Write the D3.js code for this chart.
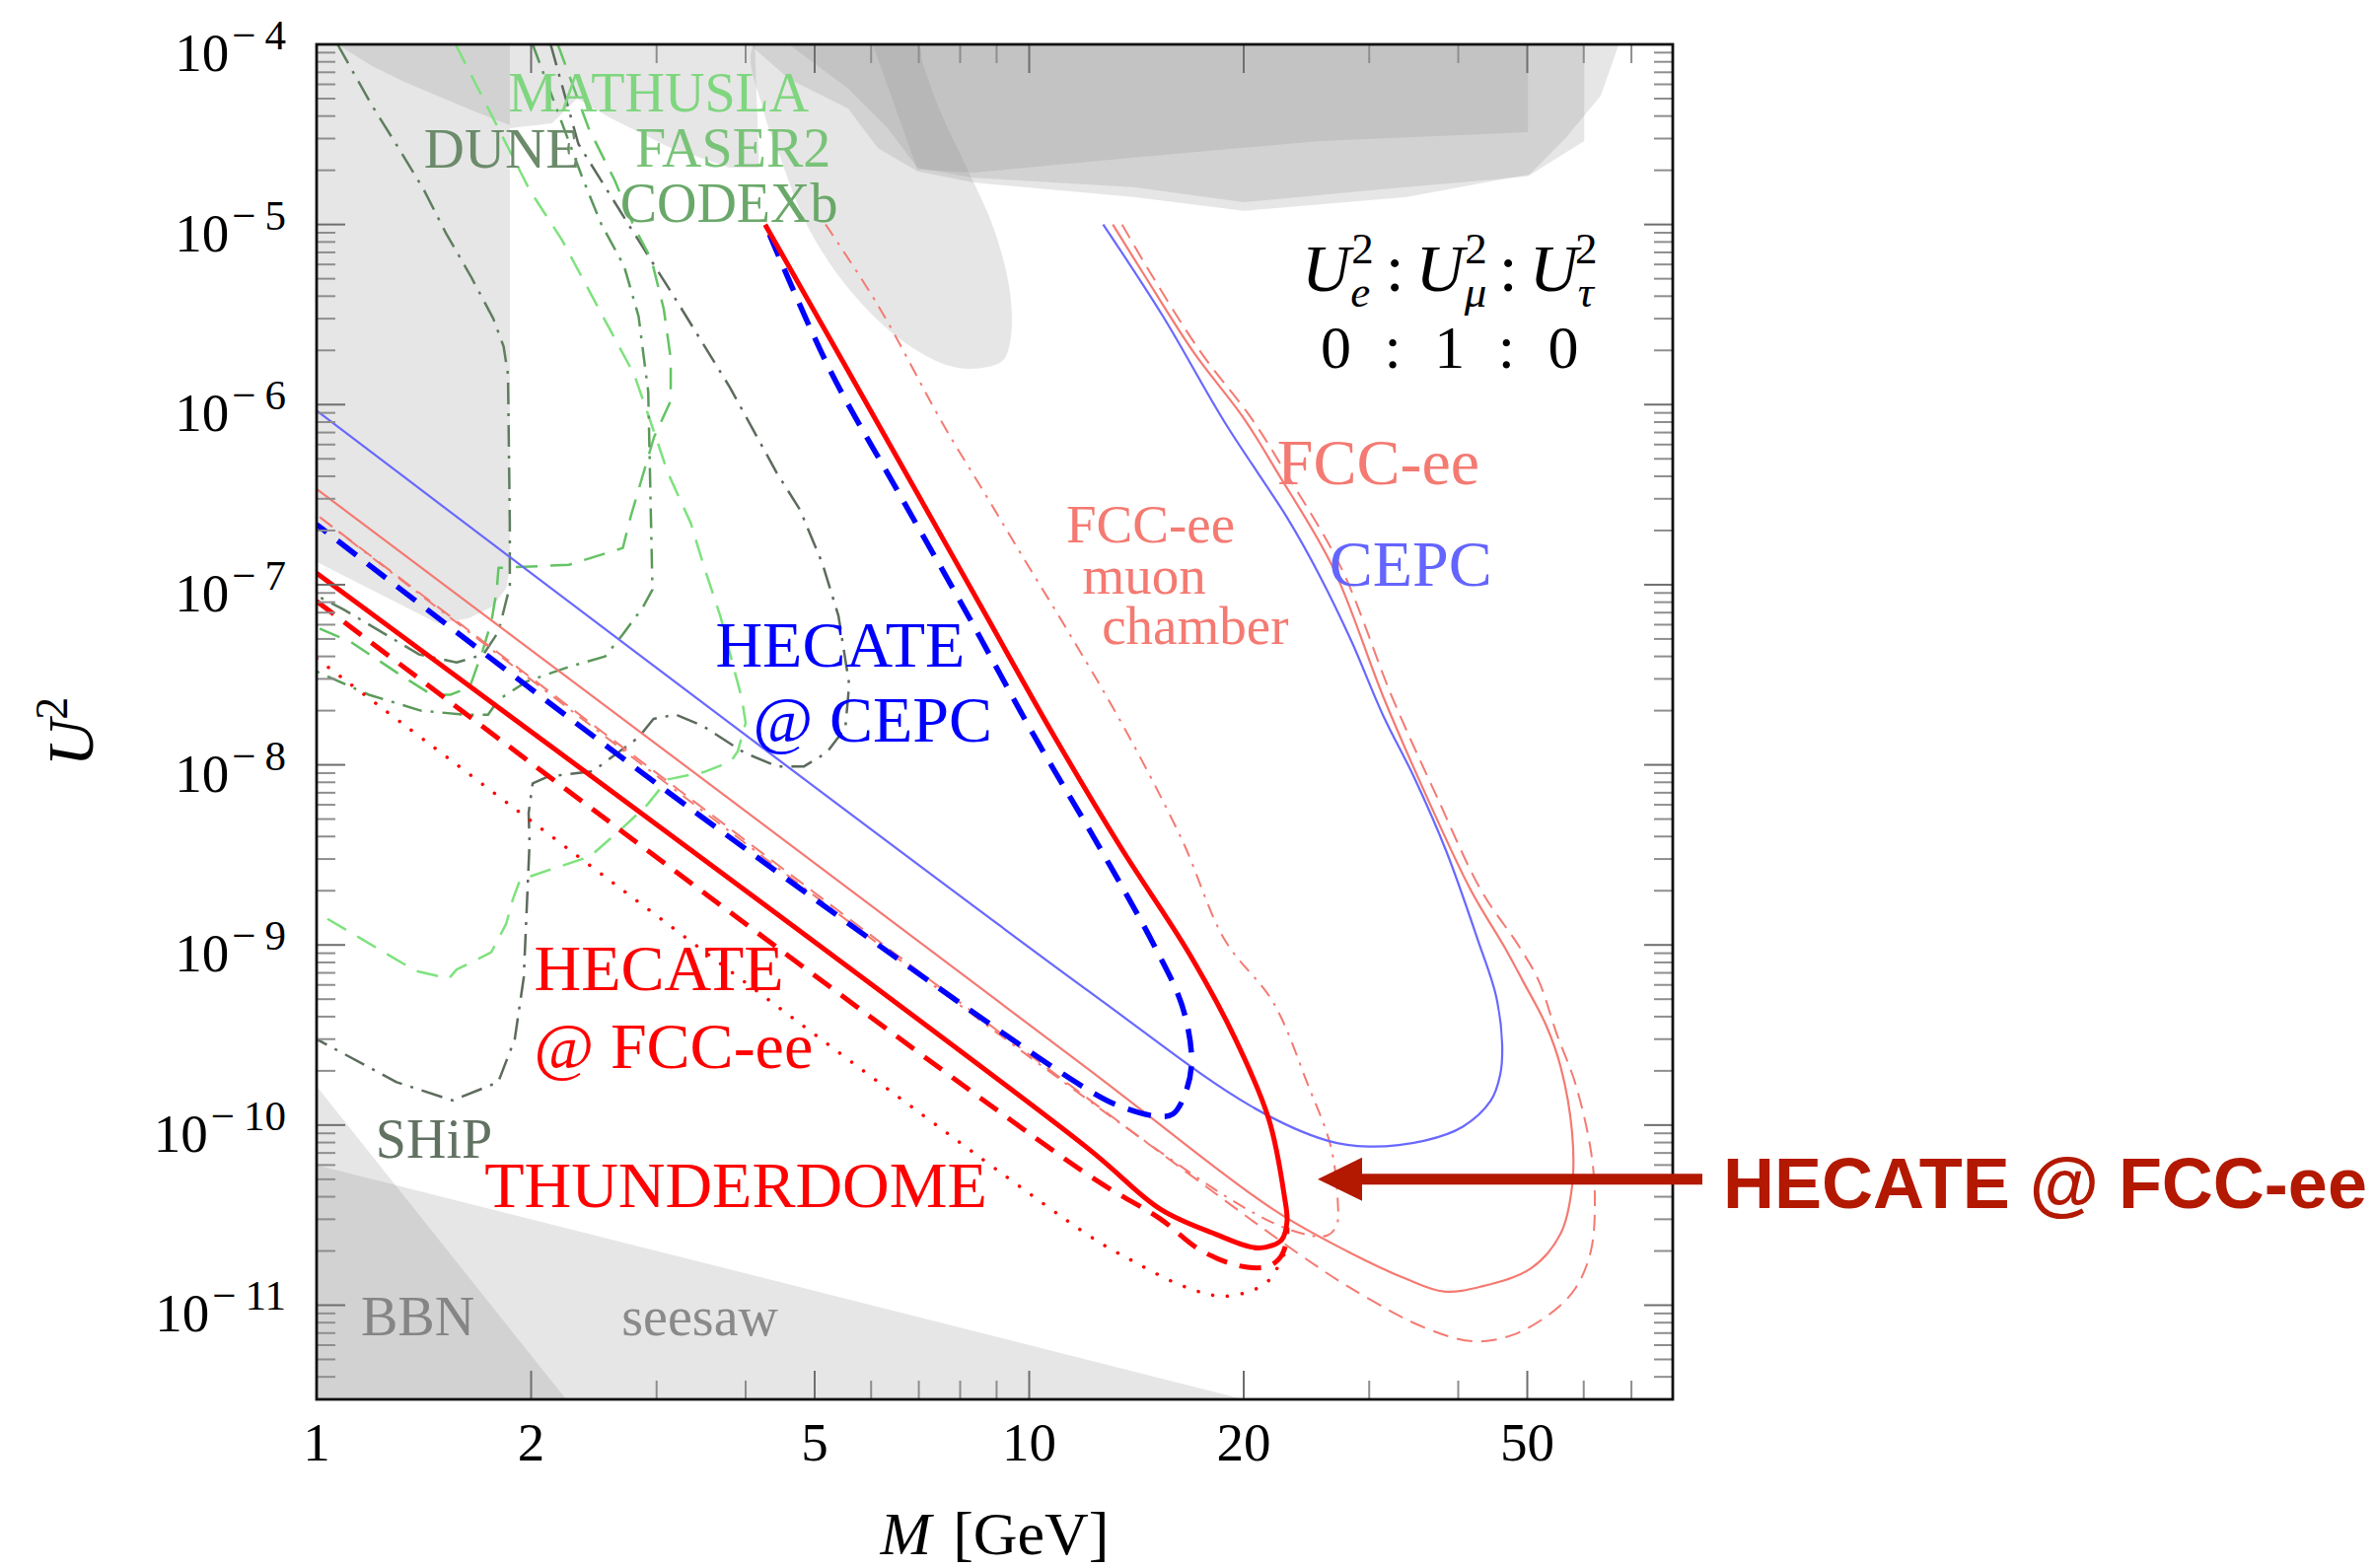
<!DOCTYPE html>
<html lang="en">
<head>
<meta charset="utf-8">
<title>HNL sensitivity, U_e:U_mu:U_tau = 0:1:0</title>
<script src="https://cdn.jsdelivr.net/npm/d3@7"></script>
<style>
  body { margin: 0; background: #fff; }
  svg text { font-family: "Liberation Serif", "DejaVu Serif", serif; }
  .callout { font-family: "Liberation Sans", Arial, sans-serif; font-weight: bold; }
</style>
</head>
<body>
<svg id="chart"></svg>
<script>
// ---- data: every point is [M in GeV, U^2] ----
var cepc = [[12.7,1.0e-5],[15.4,3.1e-6],[18.8,8.0e-7],[23.1,2.3e-7],[25.6,1.11e-7],[28.3,4.9e-8],[31.4,1.87e-8],[34.7,8.5e-9],[38.5,3.3e-9],[42.6,1.07e-9],[45.2,5.2e-10],[46.1,2.8e-10],[45.8,1.9e-10],[44.4,1.36e-10],[40.6,9.8e-11],[35.9,8.2e-11],[29.9,7.6e-11],[26.2,8.2e-11],[20.5,1.27e-10],[12.0,5.7e-10],[1,9.25e-7]];
var fccee = [[13.1,1.0e-5],[14.45,5.37e-6],[17.0,1.96e-6],[20.0,8.4e-7],[22.3,4.2e-7],[26.7,1.24e-7],[31.4,2.38e-8],[36.1,6.7e-9],[41.7,2.0e-9],[46.4,9.8e-10],[49.3,6.3e-10],[53.1,3.6e-10],[55.7,2.1e-10],[57.8,9.0e-11],[57.8,4.6e-11],[55.7,2.5e-11],[50.6,1.6e-11],[43.1,1.27e-11],[38.2,1.19e-11],[33.8,1.4e-11],[28.1,1.97e-11],[22.0,3.4e-11],[12.0,2.1e-10],[1,3.4e-7]];
var fcceeDash = [[13.5,1.0e-5],[14.8,5.37e-6],[17.4,1.96e-6],[20.5,8.4e-7],[22.9,4.2e-7],[27.4,1.24e-7],[32.3,2.38e-8],[37.3,6.7e-9],[43.1,2.0e-9],[48.7,9.8e-10],[51.9,6.3e-10],[55.0,3.2e-10],[58.4,1.7e-10],[61.4,7.2e-11],[62.2,3.8e-11],[61.4,2.0e-11],[58.4,1.24e-11],[53.7,8.9e-12],[47.5,6.8e-12],[42.0,6.3e-12],[35.9,7.5e-12],[29.9,1.09e-11],[23.7,1.97e-11],[1,2.45e-7]];
var fccMuon = [[5.18,1.0e-5],[6.15,3.5e-6],[7.54,8.0e-7],[8.71,3.1e-7],[9.89,1.34e-7],[11.34,5.5e-8],[13.6,1.6e-8],[16.4,3.8e-9],[18.8,1.07e-9],[22.0,4.8e-10],[24.6,1.68e-10],[26.5,7.6e-11],[27.1,3.8e-11],[27.0,2.77e-11],[26.2,2.44e-11],[24.15,2.5e-11],[19.3,3.8e-11],[1,2.45e-7]];
var hecateFcc = [[4.26,1.0e-5],[5.57,1.54e-6],[6.95,3.27e-7],[8.66,6.97e-8],[10.8,1.48e-8],[13.45,3.47e-9],[16.77,8.96e-10],[19.4,3.09e-10],[21.7,1.07e-10],[22.8,4.06e-11],[23.0,2.9e-11],[22.6,2.3e-11],[21.5,2.1e-11],[20.5,2.1e-11],[18.4,2.45e-11],[15.3,3.4e-11],[12.0,7.6e-11],[1,1.16e-7]];
var hecateFccDash = [[1,8.1e-8],[12.0,5.4e-11],[15.3,3.0e-11],[17.3,2.05e-11],[19.5,1.67e-11],[21.5,1.63e-11],[22.4,1.8e-11],[22.9,2.15e-11],[23.0,2.7e-11]];
var thunderdome = [[1,3.9e-8],[12.1,2.45e-11],[13.9,1.78e-11],[16.1,1.32e-11],[17.7,1.16e-11],[18.8,1.12e-11],[20.7,1.22e-11],[21.8,1.4e-11],[22.4,1.67e-11],[22.9,2.0e-11]];
var hecateCepc = [[4.32,8.8e-6],[5.26,1.54e-6],[6.55,3.27e-7],[8.17,6.97e-8],[10.13,1.48e-8],[12.56,3.47e-9],[14.98,9.9e-10],[16.4,4.56e-10],[16.9,2.31e-10],[16.6,1.54e-10],[15.9,1.15e-10],[15.1,1.12e-10],[13.5,1.26e-10],[12.0,1.6e-10],[3.35,5.7e-9],[1,2.16e-7]];

var dune = [[1.07,1.0e-4],[1.195,4.6e-5],[1.30,2.7e-5],[1.415,1.55e-5],[1.52,8.9e-6],[1.644,5.2e-6],[1.77,3.0e-6],[1.83,2.1e-6],[1.856,1.47e-6],[1.867,2.2e-7],[1.867,9.8e-8],[1.80,5.5e-8],[1.714,4.1e-8],[1.572,3.7e-8],[1.393,4.1e-8],[1.23,5.5e-8],[1.09,7.3e-8],[1,8.7e-8]];
var ship = [[2.13,1.0e-4],[2.33,2.8e-5],[2.74,1.0e-5],[3.21,3.7e-6],[3.80,1.25e-6],[4.42,4.2e-7],[4.77,2.6e-7],[5.13,1.3e-7],[5.40,6.7e-8],[5.59,2.8e-8],[5.52,1.6e-8],[5.20,1.17e-8],[4.83,9.8e-9],[4.43,9.8e-9],[3.98,1.17e-8],[3.48,1.65e-8],[3.19,1.9e-8],[2.97,1.8e-8],[2.83,1.42e-8],[2.44,9.2e-9],[2.11,8.6e-9],[2.01,7.9e-9],[1.984,5.4e-9],[1.99,3.7e-9],[1.953,6.6e-10],[1.897,3.0e-10],[1.798,1.73e-10],[1.552,1.37e-10],[1.295,1.73e-10],[1,3.0e-10]];
var mathusla = [[1.567,1.0e-4],[1.752,4.2e-5],[1.991,1.55e-5],[2.21,8.2e-6],[2.51,3.2e-6],[2.79,1.47e-6],[2.95,7.8e-7],[3.11,4.2e-7],[3.35,2.2e-7],[3.49,1.29e-7],[3.69,6.6e-8],[3.86,3.3e-8],[3.95,2.35e-8],[4.0,1.71e-8],[3.90,1.19e-8],[3.81,1.04e-8],[3.49,9.1e-9],[3.11,8.3e-9],[2.91,6.0e-9],[2.71,4.6e-9],[2.42,3.1e-9],[2.115,2.6e-9],[1.93,2.3e-9],[1.886,1.8e-9],[1.845,1.31e-9],[1.758,9.1e-10],[1.572,7.3e-10],[1.533,6.5e-10],[1.375,7.2e-10],[1.147,1.1e-9],[1.013,1.47e-9],[1,1.5e-9]];
var faser2 = [[2.18,1.0e-4],[2.41,3.4e-5],[2.62,1.76e-5],[2.79,9.7e-6],[2.95,6.4e-6],[3.07,3.4e-6],[3.14,1.8e-6],[3.14,1.05e-6],[2.975,6.6e-7],[2.76,2.4e-7],[2.69,1.6e-7],[2.26,1.29e-7],[1.80,1.24e-7],[1.79,9.4e-8],[1.76,6.3e-8],[1.71,4.3e-8],[1.64,2.7e-8],[1.54,2.45e-8],[1.45,2.45e-8],[1.32,3.1e-8],[1.118,4.8e-8],[1,5.8e-8]];
var codexb = [[2.01,1.0e-4],[2.36,1.82e-5],[2.51,1.0e-5],[2.70,5.9e-6],[2.83,3.1e-6],[2.88,1.8e-6],[2.92,1.18e-6],[2.93,6.3e-7],[2.96,9.4e-8],[2.87,7.5e-8],[2.69,5.3e-8],[2.54,4.0e-8],[2.26,3.5e-8],[1.97,2.9e-8],[1.80,2.3e-8],[1.74,1.9e-8],[1.61,1.9e-8],[1.40,2.0e-8],[1.184,2.45e-8],[1,3.3e-8]];

// excluded / theory regions (grey, stacked)
var leftColumn = [[1,1e-4],[1.867,1e-4],[1.867,1.24e-7],[1.845,9.6e-8],[1.769,7.6e-8],[1.634,6.5e-8],[1.48,6.1e-8],[1,1.34e-7]];
var leftTopBand = [[1,1e-4],[1.867,1e-4],[1.867,3.56e-5],[1.676,4.2e-5],[1.51,5.0e-5],[1.328,6.2e-5],[1.195,7.6e-5],[1.07,1e-4]];
var midTop = [[1.867,1e-4],[4.12,1e-4],[4.18,2.07e-5],[3.80,2.07e-5],[3.14,2.66e-5],[2.59,3.89e-5],[2.32,5.0e-5],[2.14,3.65e-5],[1.867,3.43e-5]];
var tongue = [[4.12,1e-4],[4.24,4.25e-5],[4.49,2.26e-5],[4.89,9.7e-6],[5.64,4.18e-6],[6.68,2.22e-6],[7.94,1.60e-6],[9.14,1.73e-6],[9.40,2.22e-6],[9.40,4.18e-6],[8.90,9.7e-6],[8.17,2.07e-5],[7.50,4.25e-5],[7.08,8.0e-5],[6.97,1e-4]];
var bandLight = [[4.05,1e-4],[67.2,1e-4],[63.4,5.19e-5],[56.6,3.02e-5],[50.4,1.90e-5],[33.9,1.42e-5],[20.0,1.19e-5],[14.0,1.42e-5],[8.35,1.71e-5],[6.97,1.97e-5],[6.13,2.66e-5],[5.57,4.4e-5],[4.6,6.43e-5]];
var bandMed = [[4.6,1e-4],[60.1,1e-4],[60.1,2.91e-5],[50.1,1.85e-5],[31.4,1.57e-5],[20.0,1.33e-5],[14.0,1.61e-5],[8.35,1.82e-5],[6.97,2.07e-5],[6.33,3.43e-5],[5.57,5.68e-5]];
var bandDark = [[6.03,1e-4],[50.1,1e-4],[50.1,3.26e-5],[25.6,2.91e-5],[14.0,2.35e-5],[8.35,1.94e-5],[6.97,2.02e-5]];
var bbn = [[1,1.64e-10],[2.24,3e-12],[1,3e-12]];
var seesaw = [[1,6.0e-11],[20,3.0e-12],[1,3e-12]];

var xMajor = [1, 2, 5, 10, 20, 50];
var yExponents = [-11, -10, -9, -8, -7, -6, -5, -4];

var labels = [
  {t: "MATHUSLA", m: 3.02, u: 4.25e-5, c: "#7fd67f", s: 56, a: "middle"},
  {t: "DUNE", m: 1.82, u: 2.07e-5, c: "#6b8b6b", s: 57, a: "middle"},
  {t: "FASER2", m: 3.84, u: 2.1e-5, c: "#79c379", s: 56, a: "middle"},
  {t: "CODEXb", m: 3.79, u: 1.035e-5, c: "#6aa86a", s: 56, a: "middle"},
  {t: "HECATE", m: 5.43, u: 3.5e-8, c: "#0000ff", s: 66, a: "middle"},
  {t: "@ CEPC", m: 6.03, u: 1.35e-8, c: "#0000ff", s: 66, a: "middle"},
  {t: "FCC-ee", m: 30.9, u: 3.6e-7, c: "#f47a72", s: 66, a: "middle"},
  {t: "CEPC", m: 34.3, u: 9.9e-8, c: "#6464ff", s: 66, a: "middle"},
  {t: "FCC-ee", m: 14.8, u: 1.72e-7, c: "#f47a72", s: 55, a: "middle"},
  {t: "muon", m: 14.5, u: 8.9e-8, c: "#f47a72", s: 55, a: "middle"},
  {t: "chamber", m: 17.1, u: 4.7e-8, c: "#f47a72", s: 55, a: "middle"},
  {t: "HECATE", m: 2.02, u: 5.6e-10, c: "#ff0000", s: 66, a: "start"},
  {t: "@ FCC-ee", m: 2.02, u: 2.08e-10, c: "#ff0000", s: 66, a: "start"},
  {t: "THUNDERDOME", m: 1.72, u: 3.5e-11, c: "#ff0000", s: 66, a: "start"},
  {t: "SHiP", m: 1.21, u: 6.6e-11, c: "#627262", s: 56, a: "start"},
  {t: "BBN", m: 1.154, u: 6.8e-12, c: "#858585", s: 56, a: "start"},
  {t: "seesaw", m: 2.68, u: 6.8e-12, c: "#8a8a8a", s: 56, a: "start"}
];
var ratioAt = [38.9, 4.3e-6];
var ratioValAt = [38.9, 1.6e-6];
var arrowTip = [25.4, 5.0e-11];

// ---- drawing ----
var width = 2408, height = 1590;
var plot = {left: 321, top: 45, width: 1375, height: 1374};

var x = d3.scaleLog().domain([1, 80]).range([plot.left, plot.left + plot.width]);
var y = d3.scaleLog().domain([3e-12, 1e-4]).range([plot.top + plot.height, plot.top]);

var svg = d3.select("#chart").attr("width", width).attr("height", height);
svg.append("rect").attr("width", width).attr("height", height).attr("fill", "#fff");

svg.append("clipPath").attr("id", "clip")
  .append("rect")
    .attr("x", plot.left).attr("y", plot.top)
    .attr("width", plot.width).attr("height", plot.height);

var inner = svg.append("g").attr("clip-path", "url(#clip)");

var closedLin = d3.line().x(function(d) { return x(d[0]); }).y(function(d) { return y(d[1]); }).curve(d3.curveLinearClosed);
var closedSmooth = d3.line().x(function(d) { return x(d[0]); }).y(function(d) { return y(d[1]); }).curve(d3.curveCatmullRomClosed.alpha(0.5));

var greys = [
  {pts: leftColumn}, {pts: leftTopBand}, {pts: midTop}, {pts: tongue, smooth: true},
  {pts: bandLight}, {pts: bandMed}, {pts: bandDark}, {pts: bbn}, {pts: seesaw}
];
inner.selectAll("path.grey")
  .data(greys)
  .enter().append("path")
    .attr("class", "grey")
    .attr("d", function(d) { return d.smooth ? closedSmooth(d.pts) : closedLin(d.pts); })
    .attr("fill", "#8c8c8c")
    .attr("fill-opacity", 0.22)
    .attr("stroke", "none");

var lin = d3.line().x(function(d) { return x(d[0]); }).y(function(d) { return y(d[1]); });
var smooth = d3.line().x(function(d) { return x(d[0]); }).y(function(d) { return y(d[1]); }).curve(d3.curveCatmullRom.alpha(0.5));

var curves = [
  {pts: dune, color: "#5f7d5f", w: 2.5, dash: "22 9 3 9"},
  {pts: ship, color: "#5c6b5c", w: 2.5, dash: "22 9 3 9"},
  {pts: mathusla, color: "#7ee27e", w: 2.5, dash: "22 13"},
  {pts: faser2, color: "#64c464", w: 2.5, dash: "22 13"},
  {pts: codexb, color: "#5a985a", w: 2.5, dash: "20 9 3 9"},
  {pts: fccMuon, color: "#f47a72", w: 2, dash: "14 8 3 8", smooth: true},
  {pts: fcceeDash, color: "#f47a72", w: 2, dash: "16 9", smooth: true},
  {pts: fccee, color: "#f47a72", w: 2.2, smooth: true},
  {pts: cepc, color: "#6868ff", w: 2.2, smooth: true},
  {pts: thunderdome, color: "#ff0000", w: 3.5, dash: "0.1 15", cap: "round", smooth: true},
  {pts: hecateFccDash, color: "#ff0000", w: 5, dash: "22 13", smooth: true},
  {pts: hecateCepc, color: "#0000ff", w: 5.5, dash: "24 14", smooth: true},
  {pts: hecateFcc, color: "#ff0000", w: 5, smooth: true}
];
inner.selectAll("path.curve")
  .data(curves)
  .enter().append("path")
    .attr("class", "curve")
    .attr("d", function(d) { return d.smooth ? smooth(d.pts) : lin(d.pts); })
    .attr("fill", "none")
    .attr("stroke", function(d) { return d.color; })
    .attr("stroke-width", function(d) { return d.w; })
    .attr("stroke-dasharray", function(d) { return d.dash || null; })
    .attr("stroke-linecap", function(d) { return d.cap || "butt"; })
    .attr("stroke-linejoin", "round");

// in-plot labels
svg.append("g").selectAll("text")
  .data(labels)
  .enter().append("text")
    .attr("x", function(d) { return x(d.m); })
    .attr("y", function(d) { return y(d.u); })
    .attr("text-anchor", function(d) { return d.a; })
    .attr("font-size", function(d) { return d.s; })
    .attr("fill", function(d) { return d.c; })
    .text(function(d) { return d.t; });

// coupling ratio  U_e^2 : U_mu^2 : U_tau^2
var ratio = svg.append("text")
  .attr("x", x(ratioAt[0])).attr("y", y(ratioAt[1]))
  .attr("text-anchor", "middle").attr("font-size", 68);
[["e", 19], ["\u03bc", 22], ["\u03c4", 19]].forEach(function(f, i) {
  if (i > 0) ratio.append("tspan").attr("dx", 12).attr("dy", 28).text(":");
  ratio.append("tspan").attr("dx", i > 0 ? 12 : 0).attr("font-style", "italic").text("U");
  ratio.append("tspan").attr("dy", 16).attr("font-size", 45).attr("font-style", "italic").text(f[0]);
  ratio.append("tspan").attr("dx", -f[1]).attr("dy", -44).attr("font-size", 45).text("2");
});
svg.append("text")
  .attr("x", x(ratioValAt[0])).attr("y", y(ratioValAt[1]))
  .attr("text-anchor", "middle").attr("font-size", 62)
  .attr("word-spacing", 18)
  .text("0 : 1 : 0");

// frame ticks (inward, on all four sides)
var ticks = svg.append("g");
var xTicks = [];
[1, 10].forEach(function(p) { for (var m = 1; m <= 9; m++) { var v = m * p; if (v > 1 && v < 80) xTicks.push(v); } });
xTicks.forEach(function(v) {
  var major = xMajor.indexOf(v) >= 0, len = major ? 29 : 19;
  [[plot.top + plot.height, -len], [plot.top, len]].forEach(function(e) {
    ticks.append("line")
      .attr("x1", x(v)).attr("x2", x(v))
      .attr("y1", e[0]).attr("y2", e[0] + e[1])
      .attr("stroke", major ? "#6e6e6e" : "#8e8e8e").attr("stroke-width", 2);
  });
});
var yTicks = [];
for (var k = -12; k <= -4; k++) {
  for (var m = 1; m <= 9; m++) {
    var v = m * Math.pow(10, k);
    if (v > 3.01e-12 && v < 0.99e-4) yTicks.push({v: v, major: m === 1});
  }
}
yTicks.forEach(function(t) {
  var len = t.major ? 29 : 19;
  [[plot.left, len], [plot.left + plot.width, -len]].forEach(function(e) {
    ticks.append("line")
      .attr("x1", e[0]).attr("x2", e[0] + e[1])
      .attr("y1", y(t.v)).attr("y2", y(t.v))
      .attr("stroke", t.major ? "#6e6e6e" : "#8e8e8e").attr("stroke-width", 2);
  });
});

svg.append("rect")
  .attr("x", plot.left).attr("y", plot.top)
  .attr("width", plot.width).attr("height", plot.height)
  .attr("fill", "none").attr("stroke", "#111").attr("stroke-width", 2.8);

// tick labels
xMajor.forEach(function(v) {
  svg.append("text")
    .attr("x", x(v)).attr("y", plot.top + plot.height + 62)
    .attr("text-anchor", "middle").attr("font-size", 55)
    .text(v);
});
yExponents.forEach(function(e) {
  var yy = y(Math.pow(10, e));
  var sup = svg.append("text")
    .attr("x", plot.left - 31).attr("y", yy + 5)
    .attr("text-anchor", "end").attr("font-size", 43);
  sup.append("tspan").text("\u2212");
  sup.append("tspan").attr("dx", 9).text(-e);
  var w = sup.node().getComputedTextLength() + 9;
  svg.append("text")
    .attr("x", plot.left - 31 - w - 3).attr("y", yy + 27)
    .attr("text-anchor", "end").attr("font-size", 55)
    .text("10");
});

// axis titles
var yt = svg.append("text")
  .attr("transform", "translate(94," + (plot.top + plot.height / 2 + 10) + ") rotate(-90)")
  .attr("text-anchor", "middle").attr("font-size", 66);
yt.append("tspan").attr("font-style", "italic").text("U");
yt.append("tspan").attr("dy", -26).attr("font-size", 46).text("2");

var xt = svg.append("text")
  .attr("x", plot.left + plot.width / 2).attr("y", 1576)
  .attr("text-anchor", "middle").attr("font-size", 62);
xt.append("tspan").attr("font-style", "italic").text("M");
xt.append("tspan").attr("dx", 22).text("[GeV]");

// call-out arrow
var tipX = x(arrowTip[0]), tipY = y(arrowTip[1]);
var endX = plot.left + plot.width + 30;
svg.append("line")
  .attr("x1", tipX + 40).attr("x2", endX)
  .attr("y1", tipY).attr("y2", tipY)
  .attr("stroke", "#b31800").attr("stroke-width", 11);
svg.append("path")
  .attr("d", "M" + tipX + "," + tipY + "L" + (tipX + 45) + "," + (tipY - 22) + "L" + (tipX + 45) + "," + (tipY + 22) + "Z")
  .attr("fill", "#b31800");
svg.append("text")
  .attr("class", "callout")
  .attr("x", endX + 21).attr("y", tipY + 29)
  .attr("font-size", 72).attr("fill", "#b31800")
  .text("HECATE @ FCC-ee");
</script>
</body>
</html>
